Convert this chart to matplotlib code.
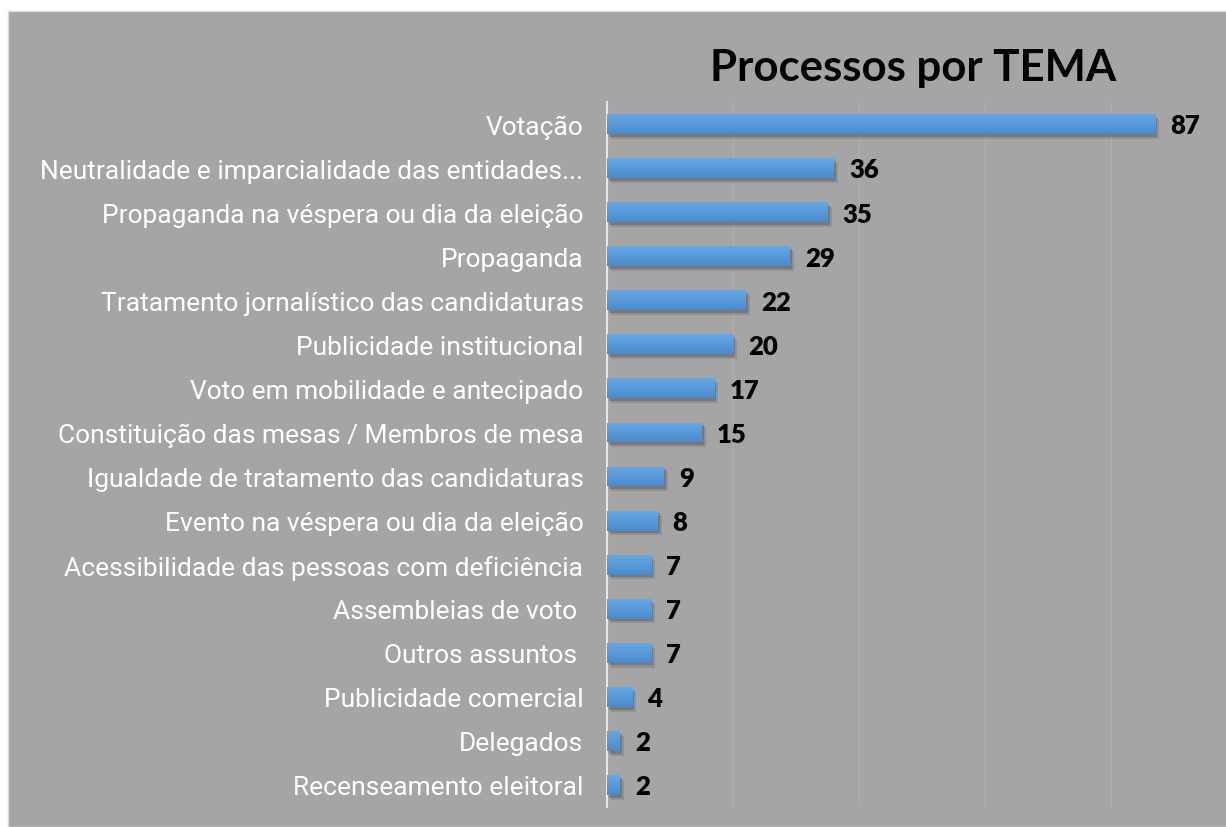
import numpy as np
import matplotlib
matplotlib.use("Agg")
import matplotlib.pyplot as plt
import matplotlib.patheffects as pe
from matplotlib.colors import LinearSegmentedColormap

# dados do grafico
temas = ["Votação",
         "Neutralidade e imparcialidade das entidades...",
         "Propaganda na véspera ou dia da eleição",
         "Propaganda",
         "Tratamento jornalístico das candidaturas",
         "Publicidade institucional",
         "Voto em mobilidade e antecipado",
         "Constituição das mesas / Membros de mesa",
         "Igualdade de tratamento das candidaturas",
         "Evento na véspera ou dia da eleição",
         "Acessibilidade das pessoas com deficiência",
         "Assembleias de voto ",
         "Outros assuntos ",
         "Publicidade comercial",
         "Delegados",
         "Recenseamento eleitoral"]
processos = [87, 36, 35, 29, 22, 20, 17, 15, 9, 8, 7, 7, 7, 4, 2, 2]

fundo = "#a5a5a5"

fig = plt.figure(figsize=(12.26, 8.28), dpi=100, facecolor="white")
# area cinzenta do grafico (margem branca so em cima e a esquerda)
fig.patches.append(plt.Rectangle((8/1226, 0), 1, 1 - 12/828, transform=fig.transFigure,
                                 facecolor=fundo, edgecolor="#d9d9d9", lw=1, zorder=0))

ax = fig.add_axes([607/1226, 20/828, 600/1226, 705/828])
ax.set_zorder(2)
ax.set_facecolor("none")

y = np.arange(len(temas))
# sombra suave: duas camadas
sombra = [pe.SimplePatchShadow(offset=(3, -3.5), shadow_rgbFace="#6e6e6e", alpha=0.35),
          pe.SimplePatchShadow(offset=(1.5, -2), shadow_rgbFace="#5a5a5a", alpha=0.45),
          pe.Normal()]
bars = ax.barh(y, processos, height=0.45, color="#5b9bd5", zorder=3, path_effects=sombra)

# gradiente nas barras
cmap = LinearSegmentedColormap.from_list("g", ["#67a7e2", "#4a8bcf"])
grad = np.linspace(0, 1, 64).reshape(-1, 1)
for b in bars:
    x0, y0 = b.get_x(), b.get_y()
    im = ax.imshow(grad, cmap=cmap, aspect="auto", zorder=4,
                   extent=[x0, x0 + b.get_width(), y0 + b.get_height(), y0],
                   origin="upper")
    im.set_clip_path(b)

for yi, v in zip(y, processos):
    ax.annotate(str(v), (v, yi), xytext=(11, -1), textcoords="offset points",
                va="center", ha="left", fontsize=18.5, fontweight="heavy",
                family="Lato", color="black")

ax.set_xlim(0, 95.2)
ax.set_ylim(len(temas) - 0.5, -0.5)
ax.set_xticks([0, 20, 40, 60, 80])
ax.xaxis.grid(True, color="#afafaf", lw=1.0, zorder=0)
ax.tick_params(axis="x", length=0, labelbottom=False)
ax.set_yticks(y)
ax.set_yticklabels(temas, fontsize=19, color="white", family="Roboto")
ax.tick_params(axis="y", length=0, pad=17)
for s in ["top", "right", "bottom"]:
    ax.spines[s].set_visible(False)
ax.spines["left"].set_color("#e6e6e6")
ax.spines["left"].set_linewidth(1.5)

fig.text(913/1226, 1 - 68/828, "Processos por TEMA", ha="center", va="center",
         fontsize=31.5, fontweight="bold", family="Lato", color="black")

fig.savefig("out.png", dpi=100, facecolor="white")
